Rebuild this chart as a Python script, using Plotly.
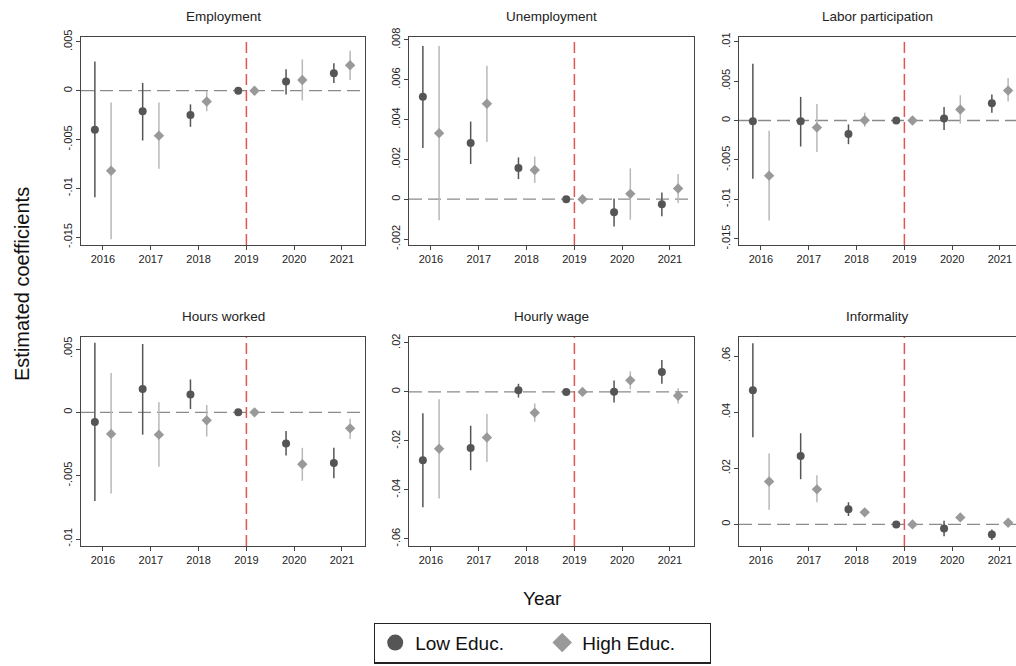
import plotly.graph_objects as go

years = [2016, 2017, 2018, 2019, 2020, 2021]
ref_year = 2019

panel_titles = ["Employment", "Unemployment", "Labor participation",
                "Hours worked", "Hourly wage", "Informality"]

# Employment
emp_low = [-0.0040, -0.0021, -0.0025, 0, 0.00095, 0.0018]
emp_low_hi = [0.0030, 0.0008, -0.0014, 0, 0.0022, 0.0028]
emp_low_lo = [-0.0109, -0.0051, -0.0037, 0, -0.0004, 0.0008]
emp_high = [-0.0082, -0.0046, -0.0011, 0, 0.0011, 0.0026]
emp_high_hi = [-0.0012, -0.0012, 0.0000, 0, 0.0032, 0.0041]
emp_high_lo = [-0.0152, -0.0080, -0.0021, 0, -0.0010, 0.0011]

# Unemployment
unemp_low = [0.00515, 0.00282, 0.00157, 0, -0.00066, -0.00025]
unemp_low_hi = [0.0077, 0.0039, 0.0021, 0, 0.00003, 0.00034]
unemp_low_lo = [0.00257, 0.00177, 0.00101, 0, -0.00137, -0.00086]
unemp_high = [0.00332, 0.0048, 0.00147, 0, 0.00027, 0.00054]
unemp_high_hi = [0.0077, 0.0067, 0.00214, 0, 0.00155, 0.00127]
unemp_high_lo = [-0.00106, 0.00287, 0.00082, 0, -0.00103, -0.00019]

# Labor participation
lab_low = [-0.0001, -0.0001, -0.0017, 0, 0.00025, 0.0022]
lab_low_hi = [0.0072, 0.0030, -0.0005, 0, 0.0017, 0.0033]
lab_low_lo = [-0.0074, -0.0033, -0.0030, 0, -0.0012, 0.0010]
lab_high = [-0.0070, -0.0009, 0.00004, 0, 0.0014, 0.0038]
lab_high_hi = [-0.0013, 0.0021, 0.0010, 0, 0.0032, 0.0054]
lab_high_lo = [-0.0127, -0.0040, -0.0008, 0, -0.0004, 0.0024]

# Hours worked
hrs_low = [-0.00076, 0.00184, 0.00142, 0, -0.00245, -0.0040]
hrs_low_hi = [0.0055, 0.0054, 0.0026, 0, -0.00147, -0.0028]
hrs_low_lo = [-0.0070, -0.00176, 0.00026, 0, -0.0034, -0.0052]
hrs_high = [-0.0017, -0.00176, -0.00063, 0, -0.0041, -0.00126]
hrs_high_hi = [0.0031, 0.0008, 0.00058, 0, -0.0028, -0.0005]
hrs_high_lo = [-0.0064, -0.0043, -0.0019, 0, -0.0054, -0.0021]

# Hourly wage
wage_low = [-0.0279, -0.0229, 0.0007, 0, 0.0001, 0.0081]
wage_low_hi = [-0.0087, -0.0138, 0.0033, 0, 0.0046, 0.0130]
wage_low_lo = [-0.0471, -0.0320, -0.0023, 0, -0.0043, 0.0033]
wage_high = [-0.0232, -0.0186, -0.0085, 0, 0.0047, -0.0016]
wage_high_hi = [-0.0030, -0.0090, -0.0047, 0, 0.0084, 0.0015]
wage_high_lo = [-0.0435, -0.0286, -0.0122, 0, 0.0011, -0.0047]

# Informality
inf_low = [0.0478, 0.0244, 0.0054, 0, -0.0015, -0.0036]
inf_low_hi = [0.0646, 0.0325, 0.0079, 0, 0.0013, -0.0018]
inf_low_lo = [0.0311, 0.0161, 0.0030, 0, -0.0042, -0.0056]
inf_high = [0.0153, 0.0125, 0.0043, 0, 0.0025, 0.0006]
inf_high_hi = [0.0253, 0.0175, 0.0055, 0, 0.0035, 0.0013]
inf_high_lo = [0.0052, 0.0079, 0.0031, 0, 0.0015, -0.0001]

# y tick values / labels per panel
emp_ticks = [-0.015, -0.01, -0.005, 0, 0.005]
emp_ticklabels = ["-.015", "-.01", "-.005", "0", ".005"]
unemp_ticks = [-0.002, 0, 0.002, 0.004, 0.006, 0.008]
unemp_ticklabels = ["-.002", "0", ".002", ".004", ".006", ".008"]
lab_ticks = [-0.015, -0.01, -0.005, 0, 0.005, 0.01]
lab_ticklabels = ["-.015", "-.01", "-.005", "0", ".005", ".01"]
hrs_ticks = [-0.01, -0.005, 0, 0.005]
hrs_ticklabels = ["-.01", "-.005", "0", ".005"]
wage_ticks = [-0.06, -0.04, -0.02, 0, 0.02]
wage_ticklabels = ["-.06", "-.04", "-.02", "0", ".02"]
inf_ticks = [0, 0.02, 0.04, 0.06]
inf_ticklabels = ["0", ".02", ".04", ".06"]

panels = [
    (emp_low, emp_low_hi, emp_low_lo, emp_high, emp_high_hi, emp_high_lo,
     emp_ticks, emp_ticklabels, [-0.0158, 0.0055]),
    (unemp_low, unemp_low_hi, unemp_low_lo, unemp_high, unemp_high_hi, unemp_high_lo,
     unemp_ticks, unemp_ticklabels, [-0.0023, 0.00815]),
    (lab_low, lab_low_hi, lab_low_lo, lab_high, lab_high_hi, lab_high_lo,
     lab_ticks, lab_ticklabels, [-0.0158, 0.0106]),
    (hrs_low, hrs_low_hi, hrs_low_lo, hrs_high, hrs_high_hi, hrs_high_lo,
     hrs_ticks, hrs_ticklabels, [-0.01055, 0.00595]),
    (wage_low, wage_low_hi, wage_low_lo, wage_high, wage_high_hi, wage_high_lo,
     wage_ticks, wage_ticklabels, [-0.0629, 0.0224]),
    (inf_low, inf_low_hi, inf_low_lo, inf_high, inf_high_hi, inf_high_lo,
     inf_ticks, inf_ticklabels, [-0.0077, 0.0668]),
]

W, H = 1016, 666
FONT = "Liberation Sans, Arial, sans-serif"
LOW_COL = "#555555"
LOW_ERR = "#555555"
HIGH_COL = "#999999"
HIGH_ERR = "#b8b8b8"
AXIS_COL = "#444444"
OFFSET = 0.17

# pixel geometry of panels
col_px = [(81, 365), (409, 694), (739, 1016)]
row_px = [(37, 245), (337, 546)]
px_per_year = 47.8
x_left = 2015.54

fig = go.Figure()
layout = {}
annotations = []
shapes = []

for i, p in enumerate(panels):
    lo_v, lo_hi, lo_lo, hi_v, hi_hi, hi_lo, tv, tt, yr = p
    r, c = divmod(i, 3)
    n = i + 1
    xa = "x" if n == 1 else f"x{n}"
    ya = "y" if n == 1 else f"y{n}"
    x0p, x1p = col_px[c]
    y0p, y1p = row_px[r]
    x_right = x_left + (x1p - x0p) / px_per_year

    fig.add_trace(go.Scatter(
        x=[yv - OFFSET for yv in years], y=lo_v, mode="markers",
        name="Low Educ.", showlegend=False,
        marker=dict(symbol="circle", size=8, color=LOW_COL),
        error_y=dict(type="data", symmetric=False,
                     array=[h - v for h, v in zip(lo_hi, lo_v)],
                     arrayminus=[v - l for v, l in zip(lo_v, lo_lo)],
                     width=0, thickness=1.5, color=LOW_ERR),
        xaxis=xa, yaxis=ya))
    fig.add_trace(go.Scatter(
        x=[yv + OFFSET for yv in years], y=hi_v, mode="markers",
        name="High Educ.", showlegend=False,
        marker=dict(symbol="diamond", size=8, color=HIGH_COL),
        error_y=dict(type="data", symmetric=False,
                     array=[h - v for h, v in zip(hi_hi, hi_v)],
                     arrayminus=[v - l for v, l in zip(hi_v, hi_lo)],
                     width=0, thickness=1.5, color=HIGH_ERR),
        xaxis=xa, yaxis=ya))

    key_x = "xaxis" if n == 1 else f"xaxis{n}"
    key_y = "yaxis" if n == 1 else f"yaxis{n}"
    layout[key_x] = dict(
        domain=[x0p / W, x1p / W], anchor=ya, range=[x_left, x_right],
        tickvals=years, ticktext=[str(yv) for yv in years],
        showgrid=False, zeroline=False, showline=True, mirror=True,
        linecolor=AXIS_COL, linewidth=1, ticks="outside", ticklen=4,
        tickcolor=AXIS_COL, tickfont=dict(size=11, color="#222", family=FONT),
    )
    layout[key_y] = dict(
        domain=[1 - y1p / H, 1 - y0p / H], anchor=xa, range=yr,
        tickvals=tv, ticktext=tt, tickangle=-90,
        showgrid=False, zeroline=False, showline=True, mirror=(c != 2),
        linecolor=AXIS_COL, linewidth=1, ticks="outside", ticklen=4,
        tickcolor=AXIS_COL, tickfont=dict(size=11, color="#222", family=FONT),
    )
    shapes.append(dict(type="line", xref=f"{xa} domain", yref=ya,
                       x0=0, x1=1, y0=0, y1=0, layer="below",
                       line=dict(color="#8a8a8a", width=1.3, dash="13px,6px")))
    shapes.append(dict(type="line", xref=xa, yref=f"{ya} domain",
                       x0=ref_year, x1=ref_year, y0=0, y1=1, layer="below",
                       line=dict(color="#e05555", width=1.5, dash="11px,5px")))
    annotations.append(dict(text=panel_titles[i], xref="paper", yref="paper",
                            x=(x0p + x1p) / 2 / W, y=1 - (y0p - 21) / H,
                            xanchor="center", yanchor="middle", showarrow=False,
                            font=dict(size=13.5, color="#222", family=FONT)))

# legend-only entries (larger symbols, as in the reference key)
fig.add_trace(go.Scatter(x=[None], y=[None], mode="markers", name="Low Educ.",
                         marker=dict(symbol="circle", size=16, color=LOW_COL),
                         showlegend=True))
fig.add_trace(go.Scatter(x=[None], y=[None], mode="markers", name="High Educ.",
                         marker=dict(symbol="diamond", size=15, color=HIGH_COL),
                         showlegend=True))

annotations.append(dict(text="Estimated coefficients", xref="paper", yref="paper",
                        x=22 / W, y=1 - 284 / H, textangle=-90, showarrow=False,
                        xanchor="center", yanchor="middle",
                        font=dict(size=20, color="#111", family=FONT)))
annotations.append(dict(text="Year", xref="paper", yref="paper",
                        x=542 / W, y=1 - 598 / H, showarrow=False,
                        xanchor="center", yanchor="middle",
                        font=dict(size=19, color="#111", family=FONT)))

fig.update_layout(
    width=W, height=H, margin=dict(l=0, r=0, t=0, b=0, autoexpand=False),
    paper_bgcolor="white", plot_bgcolor="white",
    font=dict(family=FONT),
    showlegend=True,
    legend=dict(orientation="h", traceorder="normal",
                x=542.5 / W, y=1 - 643 / H,
                xanchor="center", yanchor="middle",
                bordercolor="#222", borderwidth=1.2,
                font=dict(size=19, color="#111", family=FONT),
                entrywidth=122, entrywidthmode="pixels",
                itemsizing="trace"),
    annotations=annotations, shapes=shapes,
    **layout,
)

fig.write_html(
    "out.html",
    config={"displayModeBar": False},
    post_script="document.body.style.margin='0';document.body.style.overflow='hidden';"
                "document.documentElement.style.overflow='hidden';",
)
